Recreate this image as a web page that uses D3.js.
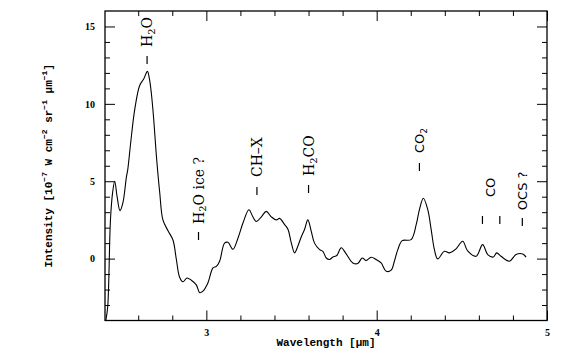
<!DOCTYPE html>
<html><head><meta charset="utf-8">
<script src="https://cdn.jsdelivr.net/npm/d3@7"></script>
<style>body{margin:0;background:#fff}</style>
</head><body><svg id="c" width="584" height="358"></svg>
<script>
const wavelength = [2.41,2.421,2.437,2.45,2.462,2.476,2.493,2.51,2.531,2.538,2.556,2.579,2.609,2.632,2.654,2.666,2.677,2.691,2.707,2.726,2.745,2.775,2.804,2.824,2.843,2.863,2.886,2.912,2.941,2.961,2.98,3.009,3.039,3.059,3.078,3.107,3.127,3.156,3.185,3.215,3.25,3.273,3.293,3.323,3.352,3.381,3.411,3.43,3.459,3.479,3.499,3.518,3.537,3.557,3.577,3.596,3.616,3.635,3.665,3.684,3.704,3.723,3.743,3.766,3.792,3.821,3.86,3.889,3.915,3.938,3.968,3.997,4.026,4.056,4.085,4.104,4.124,4.15,4.202,4.232,4.251,4.274,4.3,4.32,4.339,4.358,4.398,4.427,4.466,4.505,4.534,4.584,4.622,4.652,4.685,4.705,4.73,4.779,4.818,4.857,4.877];
const intensity = [-4,-3.1,2.5,4.3,5.0,4.0,3.1,3.6,5.3,5.7,7.5,9.6,11.2,11.6,12.1,11.6,10.7,9.0,6.6,4.3,2.5,1.8,1.2,-0.06,-1.2,-1.5,-1.25,-1.4,-1.7,-2.2,-2.1,-1.57,-0.6,-0.5,-0.17,1.0,1.05,0.6,1.3,2.3,3.16,2.7,2.4,2.7,3.05,2.7,2.5,2.6,2.2,1.9,1.0,0.37,0.8,1.4,1.9,2.5,1.76,1.0,0.58,0.47,0.04,-0.06,0.1,0.2,0.7,0.3,-0.28,-0.32,0.04,-0.13,0.09,-0.06,-0.28,-0.82,-0.75,-0.17,0.58,1.16,1.23,2.19,3.16,3.9,3.16,1.87,0.58,-0.02,0.47,0.37,0.63,1.12,0.5,0.15,0.9,0.26,0.1,0.37,0.15,-0.17,0.26,0.3,0.1];

const xMajorTicks = [3,4,5];
const xMinorTicks = [2.6,2.8,3.2,3.4,3.6,3.8,4.2,4.4,4.6,4.8];
const yMajorTicks = [0,5,10,15];
const yMinorTicks = [-3,-2,-1,1,2,3,4,6,7,8,9,11,12,13,14];

const annoText  = ["H_2O","H_2O ice ?","CH–X","H_2CO","CO_2","CO","OCS ?"];
const annoTextX = [2.652,2.954,3.297,3.600,4.251,4.668,4.855];
const annoTextY = [13.67,2.24,5.27,5.34,6.82,3.98,3.13];
const markX = [2.652,2.954,3.297,3.600,4.251,4.621,4.723,4.855];
const markY = [12.57,1.20,4.11,4.24,5.66,2.24,2.24,2.11];
const sansLabels = ["CO_2","CO","OCS ?"];

const svg = d3.select("#c");
const x = d3.scaleLinear().domain([2.405,5]).range([105,547]);
const y = d3.scaleLinear().domain([-4,16]).range([320.5,11]);
const [x0,x1] = x.range(), [y0,y1] = y.range();

svg.append("defs").append("clipPath").attr("id","clip")
  .append("rect").attr("x",x0).attr("y",y1).attr("width",x1-x0).attr("height",y0-y1);

function styleAxis(g){ g.select(".domain").remove(); g.selectAll(".tick line").attr("stroke","#000").attr("stroke-width",1);
  g.selectAll("text").attr("font-family","Liberation Serif").attr("font-weight","bold").attr("font-size",10).attr("fill","#000"); }

svg.append("g").attr("transform",`translate(0,${y0})`).call(d3.axisBottom(x).tickValues(xMinorTicks).tickSize(-5).tickFormat("")).call(styleAxis);
svg.append("g").attr("transform",`translate(0,${y0})`).call(d3.axisBottom(x).tickValues(xMajorTicks).tickSize(-10).tickPadding(8.5).tickFormat(d3.format("d"))).call(styleAxis);
svg.append("g").attr("transform",`translate(0,${y1})`).call(d3.axisTop(x).tickValues(xMinorTicks).tickSize(-5).tickFormat("")).call(styleAxis);
svg.append("g").attr("transform",`translate(0,${y1})`).call(d3.axisTop(x).tickValues(xMajorTicks).tickSize(-10).tickFormat("")).call(styleAxis);
svg.append("g").attr("transform",`translate(${x0},0)`).call(d3.axisLeft(y).tickValues(yMinorTicks).tickSize(-5).tickFormat("")).call(styleAxis);
svg.append("g").attr("transform",`translate(${x0},0)`).call(d3.axisLeft(y).tickValues(yMajorTicks).tickSize(-10).tickPadding(10).tickFormat(d3.format("d"))).call(styleAxis);
svg.append("g").attr("transform",`translate(${x1},0)`).call(d3.axisRight(y).tickValues(yMinorTicks).tickSize(-5).tickFormat("")).call(styleAxis);
svg.append("g").attr("transform",`translate(${x1},0)`).call(d3.axisRight(y).tickValues(yMajorTicks).tickSize(-10).tickFormat("")).call(styleAxis);

svg.append("rect").attr("x",x0).attr("y",y1).attr("width",x1-x0).attr("height",y0-y1)
  .attr("fill","none").attr("stroke","#000").attr("stroke-width",1.3);

const pts = wavelength.map((w,i)=>[w,intensity[i]]);
svg.append("path").attr("clip-path","url(#clip)")
  .attr("d", d3.line().x(d=>x(d[0])).y(d=>y(d[1])).curve(d3.curveCatmullRom.alpha(0.5))(pts))
  .attr("fill","none").attr("stroke","#000").attr("stroke-width",1.1);

// marker ticks
svg.selectAll(".mark").data(markX).enter().append("line")
  .attr("x1",(d)=>x(d)).attr("x2",(d)=>x(d))
  .attr("y1",(d,i)=>y(markY[i])).attr("y2",(d,i)=>y(markY[i])-8)
  .attr("stroke","#000").attr("stroke-width",1.2);

function addRich(t, str, subSize){
  const parts = str.split(/(_\d)/).filter(p=>p);
  let pending = null;
  parts.forEach(p=>{
    if(p.startsWith("_")){
      t.append("tspan").attr("font-size",subSize).attr("dy","0.3em").text(p.slice(1));
      pending = (0.3*subSize)*-1;
    } else {
      const ts = t.append("tspan").text(p);
      if(pending!==null){ ts.attr("dy",pending); pending=null; }
    }
  });
}
annoText.forEach((s,i)=>{
  const sans = sansLabels.includes(s);
  const fs = sans?13:14;
  const t = svg.append("text")
    .attr("transform",`translate(${x(annoTextX[i])},${y(annoTextY[i])}) rotate(-90)`)
    .attr("dy","0.36em").attr("text-anchor","start")
    .attr("font-family", sans?"DejaVu Sans":"DejaVu Serif").attr("font-size",fs).attr("fill","#000");
  addRich(t, s, fs*0.7);
});

// axis titles
svg.append("text").attr("x",(x0+x1)/2).attr("y",346).attr("text-anchor","middle")
  .attr("font-family","Liberation Mono").attr("font-weight","bold").attr("font-size",11).text("Wavelength [µm]");

const yl = svg.append("text").attr("transform",`translate(48,${(y0+y1)/2}) rotate(-90)`)
  .attr("text-anchor","middle").attr("dy","0.35em")
  .attr("font-family","Liberation Mono").attr("font-weight","bold").attr("font-size",11);
const ylParts = [["Intensity [10",0],["−7",1],[" W cm",0],["−2",1],[" sr",0],["−1",1],[" µm",0],["−1",1],["]",0]];
let supPending = false;
ylParts.forEach(([s,sup])=>{
  if(sup){ yl.append("tspan").attr("font-size",8).attr("dy",-5).text(s); supPending = true; }
  else { const ts = yl.append("tspan").text(s); if(supPending){ ts.attr("dy",5); supPending=false; } }
});
</script></body></html>
